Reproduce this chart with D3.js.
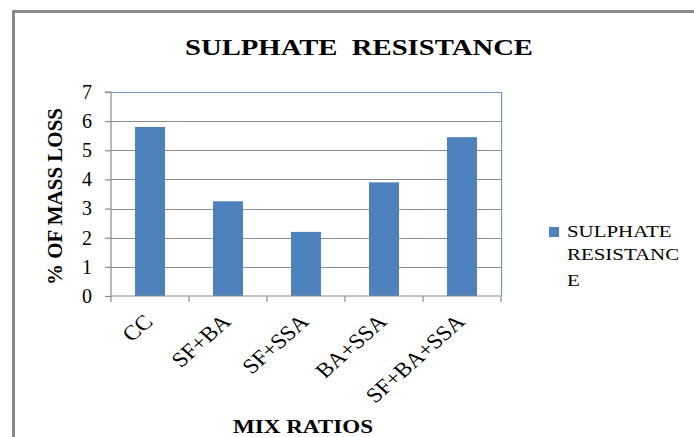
<!DOCTYPE html>
<html>
<head>
<meta charset="utf-8">
<script src="https://cdnjs.cloudflare.com/ajax/libs/d3/7.8.5/d3.min.js"></script>
<style>
  body { margin: 0; background: #fff; }
</style>
</head>
<body>
<script>
const categories = ["CC", "SF+BA", "SF+SSA", "BA+SSA", "SF+BA+SSA"];
const massLoss = [5.8, 3.25, 2.2, 3.9, 5.45];
const yTicks = [0, 1, 2, 3, 4, 5, 6, 7];
const legendLines = ["SULPHATE", "RESISTANC", "E"];

const W = 694, H = 437;
const m = {left: 111, top: 92, right: 501, bottom: 296};
const serif = "'Liberation Serif', 'DejaVu Serif', 'Times New Roman', serif";
const stretch = 1.23; // the source picture is wider than tall

const svg = d3.select("body").append("svg")
  .attr("width", W).attr("height", H)
  .attr("font-family", serif);

// outer chart frame
svg.append("rect")
  .attr("x", 13.5).attr("y", 11.5)
  .attr("width", 700).attr("height", 440)
  .attr("fill", "#fff")
  .attr("stroke", "#8a8a8a").attr("stroke-width", 3);

const x = d3.scaleBand().domain(categories).range([m.left, m.right]).paddingInner(0.615).paddingOuter(0.3075);
const y = d3.scaleLinear().domain([0, 7]).range([m.bottom, m.top]);

// gridlines
svg.append("g")
  .selectAll("line")
  .data(yTicks.filter(d => d > 0 && d < 7))
  .enter().append("line")
  .attr("x1", m.left).attr("x2", m.right)
  .attr("y1", d => Math.round(y(d)) + 0.5).attr("y2", d => Math.round(y(d)) + 0.5)
  .attr("stroke", "#8c8c8c").attr("stroke-width", 1.2);

// plot border top/right (blue)
svg.append("path")
  .attr("d", `M${m.left},${m.top + 0.5}H${m.right + 0.5}V${m.bottom}`)
  .attr("fill", "none")
  .attr("stroke", "#6f94c8").attr("stroke-width", 1.2);

// bars
svg.append("g")
  .selectAll("rect")
  .data(massLoss)
  .enter().append("rect")
  .attr("x", (d, i) => x(categories[i]))
  .attr("width", x.bandwidth())
  .attr("y", d => y(d))
  .attr("height", d => y(0) - y(d))
  .attr("fill", "#4f81bd");

// y axis
const yAxis = d3.axisLeft(y).tickValues(yTicks).tickSize(6).tickPadding(13).tickFormat(d3.format("d"));
const gy = svg.append("g")
  .attr("transform", `translate(${m.left},0)`)
  .call(yAxis)
  .attr("font-family", serif);
gy.select(".domain").attr("stroke", "#8c8c8c").attr("stroke-width", 1.2).attr("d", `M-6,${m.top}H0V${m.bottom}`);
gy.selectAll(".tick line").attr("stroke", "#8c8c8c").attr("stroke-width", 1.2);
gy.selectAll(".tick text").attr("font-size", 20).attr("fill", "#000");

// x axis
const xAxis = d3.axisBottom(x).tickSize(0).tickFormat("");
const gx = svg.append("g")
  .attr("transform", `translate(0,${m.bottom})`)
  .call(xAxis);
gx.select(".domain").attr("stroke", "#8c8c8c").attr("stroke-width", 1.2).attr("d", `M${m.left},0H${m.right}`);
const step = x.step();
gx.selectAll(".bound")
  .data(d3.range(categories.length + 1))
  .enter().append("line")
  .attr("x1", i => m.left + i * step).attr("x2", i => m.left + i * step)
  .attr("y1", 0).attr("y2", 6)
  .attr("stroke", "#8c8c8c").attr("stroke-width", 1.2);

svg.append("g")
  .selectAll("text")
  .data(categories)
  .enter().append("text")
  .attr("transform", d => `translate(${x(d) + x.bandwidth() / 2 + 4},${m.bottom + 27}) scale(1.12,1) rotate(-45)`)
  .attr("text-anchor", "end")
  .attr("font-size", 21)
  .text(d => d);

// title
svg.append("text")
  .attr("x", 185).attr("y", 55)
  .attr("font-size", 24).attr("font-weight", "bold")
  .attr("textLength", 348).attr("lengthAdjust", "spacingAndGlyphs")
  .style("white-space", "pre")
  .text("SULPHATE  RESISTANCE");

// axis titles
svg.append("text")
  .attr("x", 233).attr("y", 433)
  .attr("font-size", 18).attr("font-weight", "bold")
  .attr("textLength", 140).attr("lengthAdjust", "spacingAndGlyphs")
  .text("MIX RATIOS");

svg.append("text")
  .attr("transform", `translate(62,285) rotate(-90)`)
  .attr("font-size", 20).attr("font-weight", "bold")
  .attr("textLength", 177).attr("lengthAdjust", "spacingAndGlyphs")
  .text("% OF MASS LOSS");

// legend
const lg = svg.append("g").attr("transform", "translate(549,227)");
lg.append("rect").attr("width", 10).attr("height", 10).attr("fill", "#4f81bd");
lg.append("text")
  .attr("transform", `translate(18,10) scale(${stretch},1)`)
  .attr("font-size", 17)
  .selectAll("tspan")
  .data(legendLines)
  .enter().append("tspan")
  .attr("x", 0)
  .attr("dy", (d, i) => [0, 23, 26][i])
  .text(d => d);
</script>
</body>
</html>
